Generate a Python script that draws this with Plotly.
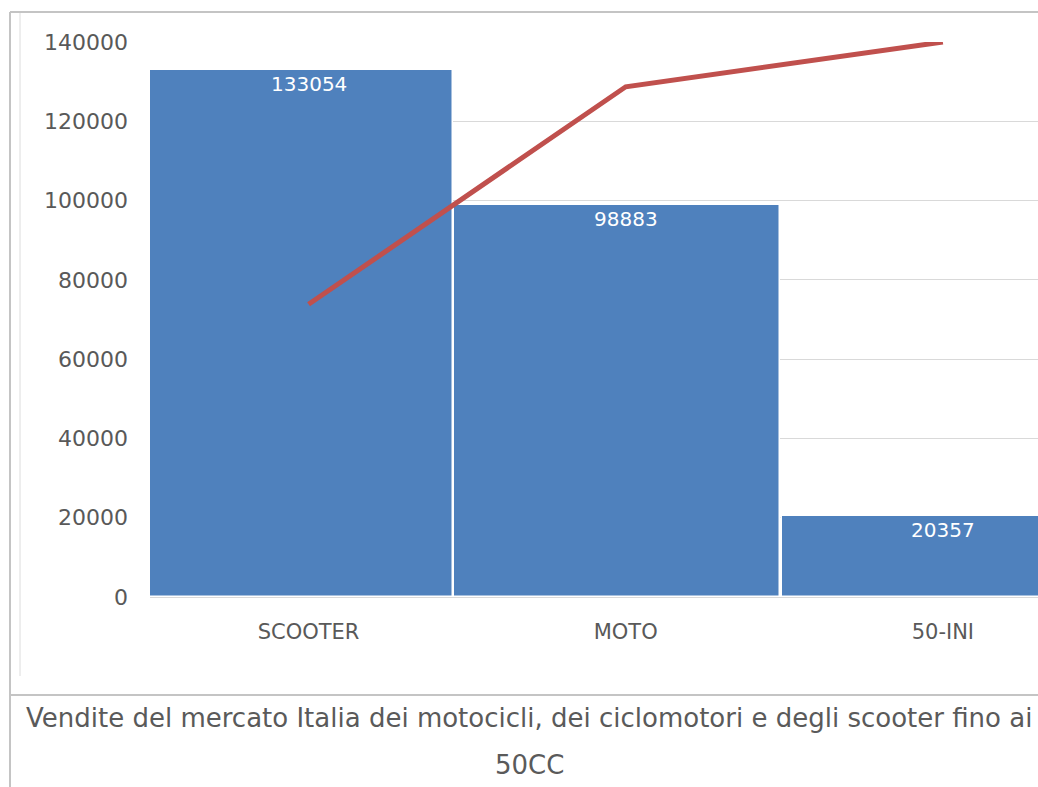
import numpy as np
import plotly.graph_objects as go

# Vendite per segmento
categorie = ["SCOOTER", "MOTO", "50-INI"]
vendite = [133054, 98883, 20357]
tick_valori = [0, 20000, 40000, 60000, 80000, 100000, 120000, 140000]
didascalia_1 = "Vendite del mercato Italia dei motocicli, dei ciclomotori e degli scooter fino ai"
didascalia_2 = "50CC"

# quota cumulata (curva di Pareto)
quota_cumulata = np.cumsum(vendite) / np.sum(vendite)

W, H = 1038, 787
PL, PR, PT, PB = 150, 1038, 42, 597
BLU = "#4F81BD"
ROSSO = "#C0504D"
GRIGIO = "#595959"
FONT = "DejaVu Sans"


def px_x(x):
    return (x - PL) / (PR - PL)


def px_y(y):
    return (PB - y) / (PB - PT)


fig = go.Figure()

fig.add_trace(go.Bar(
    x=categorie,
    y=vendite,
    width=[0.955, 1.03, 1.03],
    offset=[-0.5, -0.543, -0.508],
    marker=dict(color=BLU, line=dict(color="white", width=1.5)),
    hoverinfo="skip",
    showlegend=False,
))

fig.add_trace(go.Scatter(
    x=categorie,
    y=quota_cumulata,
    yaxis="y2",
    mode="lines",
    line=dict(color=ROSSO, width=5),
    cliponaxis=False,
    showlegend=False,
))

# etichette dei valori in cima alle barre
for c, v in zip(categorie, vendite):
    fig.add_annotation(
        x=c, y=v, xref="x", yref="y", text=str(v), showarrow=False,
        yanchor="top", yshift=0,
        font=dict(family=FONT, size=20, color="white"),
    )

# didascalia
fig.add_annotation(x=px_x(529), y=px_y(718), xref="paper", yref="paper",
                   text=didascalia_1, showarrow=False, xanchor="center", yanchor="middle",
                   font=dict(family=FONT, size=26, color="#5a5a5a"))
fig.add_annotation(x=px_x(529), y=px_y(765), xref="paper", yref="paper",
                   text=didascalia_2, showarrow=False, xanchor="center", yanchor="middle",
                   font=dict(family=FONT, size=26, color="#5a5a5a"))

# cornici della pagina
cornice = "#c4c4c4"
linee = [
    (10, 12, 1038, 12, 2, cornice),
    (10, 12, 10, 787, 2, cornice),
    (20, 13, 20, 676, 1, "#dcdcdc"),
    (10, 695, 1038, 695, 2, cornice),
]
for x0, y0, x1, y1, w, col in linee:
    fig.add_shape(type="line", xref="paper", yref="paper",
                  x0=px_x(x0), y0=px_y(y0), x1=px_x(x1), y1=px_y(y1),
                  line=dict(color=col, width=w), layer="above")

fig.update_layout(
    width=W, height=H,
    margin=dict(l=PL, r=W - PR, t=PT, b=H - PB),
    paper_bgcolor="white", plot_bgcolor="white",
    bargap=0,
    font=dict(family=FONT, color=GRIGIO),
    xaxis=dict(
        type="category",
        range=[-0.5, 2.3],
        showgrid=False,
        showline=True, linecolor="#d9d9d9", linewidth=1,
        ticks="",
        tickfont=dict(family=FONT, size=21, color=GRIGIO),
        ticklabelstandoff=16,
    ),
    yaxis=dict(
        range=[0, 140000],
        tickvals=tick_valori,
        ticktext=[str(t) for t in tick_valori],
        showgrid=True, gridcolor="#d9d9d9", gridwidth=1,
        zeroline=False, showline=False, ticks="",
        tickfont=dict(family=FONT, size=22, color=GRIGIO),
        ticklabelstandoff=21,
    ),
    yaxis2=dict(
        overlaying="y", side="right", range=[0, 1],
        visible=False, showgrid=False,
    ),
)

fig.write_html("out.html")
